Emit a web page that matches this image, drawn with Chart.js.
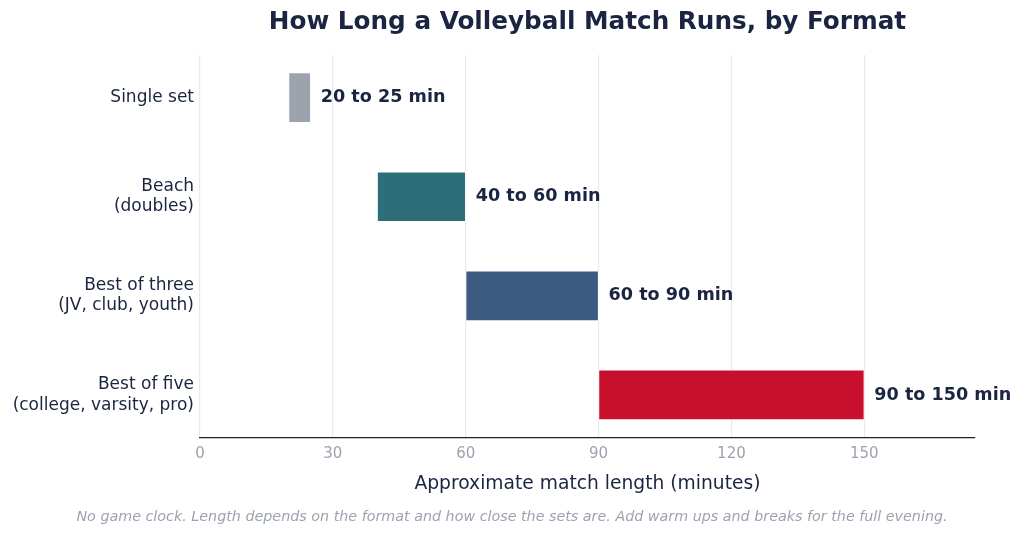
<!DOCTYPE html>
<html>
<head>
<meta charset="utf-8">
<script src="https://cdn.jsdelivr.net/npm/chart.js@4"></script>
<style>
  html, body { margin: 0; padding: 0; background: #ffffff; }
  #wrap { width: 1024px; height: 536px; }
</style>
</head>
<body>
<div id="wrap"><canvas id="chartFormato"></canvas></div>
<script>
// Datos del gráfico
const formatos = [
  ['Single set'],
  ['Beach', '(doubles)'],
  ['Best of three', '(JV, club, youth)'],
  ['Best of five', '(college, varsity, pro)']
];
const minutosDesde = [20, 40, 60, 90];
const minutosHasta = [25, 60, 90, 150];
const etiquetas = ['20 to 25 min', '40 to 60 min', '60 to 90 min', '90 to 150 min'];
const colores = ['#9ca3af', '#2e6e7a', '#3d5a80', '#c8102e'];
const ticksMinutos = [0, 30, 60, 90, 120, 150];

const titulo = 'How Long a Volleyball Match Runs, by Format';
const nota = 'No game clock. Length depends on the format and how close the sets are. Add warm ups and breaks for the full evening.';

const navy = '#1b2541';
const font = 'DejaVu Sans';
Chart.defaults.font.family = font;

// Etiquetas al final de cada barra, título centrado sobre el área y nota al pie
const textosExtra = {
  id: 'textosExtra',
  afterDatasetsDraw(chart) {
    const ctx = chart.ctx;
    const area = chart.chartArea;
    const meta = chart.getDatasetMeta(0);
    ctx.save();
    ctx.textBaseline = 'middle';

    ctx.font = 'bold 17.6px "DejaVu Sans"';
    ctx.fillStyle = navy;
    ctx.textAlign = 'left';
    meta.data.forEach((bar, i) => {
      ctx.fillText(etiquetas[i], bar.x + 10, bar.y);
    });

    ctx.textAlign = 'center';
    ctx.font = 'bold 24.7px "DejaVu Sans"';
    ctx.fillText(titulo, (area.left + area.right) / 2, 23);

    ctx.font = 'italic 14.3px "DejaVu Sans"';
    ctx.fillStyle = '#9ca3af';
    ctx.fillText(nota, chart.width / 2, 517);
    ctx.restore();
  }
};

const ctx = document.getElementById('chartFormato');
new Chart(ctx, {
  type: 'bar',
  data: {
    datasets: [{
      data: formatos.map((f, i) => ({ y: i, x: [minutosDesde[i], minutosHasta[i]] })),
      backgroundColor: colores,
      borderColor: '#ffffff',
      borderWidth: 1,
      borderSkipped: false,
      barThickness: 50
    }]
  },
  options: {
    indexAxis: 'y',
    responsive: true,
    maintainAspectRatio: false,
    animation: false,
    layout: { padding: { left: 0, right: 49, top: 55, bottom: 41 } },
    plugins: {
      legend: { display: false },
      tooltip: { enabled: false },
      title: { display: false }
    },
    scales: {
      x: {
        type: 'linear',
        min: 0,
        max: 175,
        afterBuildTicks(axis) {
          axis.ticks = ticksMinutos.map(v => ({ value: v }));
        },
        ticks: {
          color: '#9ca3af',
          font: { family: font, size: 15 },
          padding: 8
        },
        grid: { color: '#e8e8ee', lineWidth: 1.2, drawTicks: false },
        border: { display: true, color: '#222222', width: 1.3 },
        title: {
          display: true,
          text: 'Approximate match length (minutes)',
          color: navy,
          font: { family: font, size: 18.7 },
          padding: { top: 1, bottom: 0 }
        }
      },
      y: {
        type: 'linear',
        reverse: true,
        offset: false,
        min: -0.43,
        max: 3.43,
        afterBuildTicks(axis) {
          axis.ticks = formatos.map((f, i) => ({ value: i }));
        },
        afterFit(axis) {
          axis.width = 200;
        },
        ticks: {
          color: navy,
          font: { family: font, size: 17, lineHeight: 1.2 },
          padding: 6,
          callback: (v) => formatos[v]
        },
        grid: { display: false, drawTicks: false, offset: false },
        border: { display: false }
      }
    }
  },
  plugins: [textosExtra]
});
</script>
</body>
</html>
